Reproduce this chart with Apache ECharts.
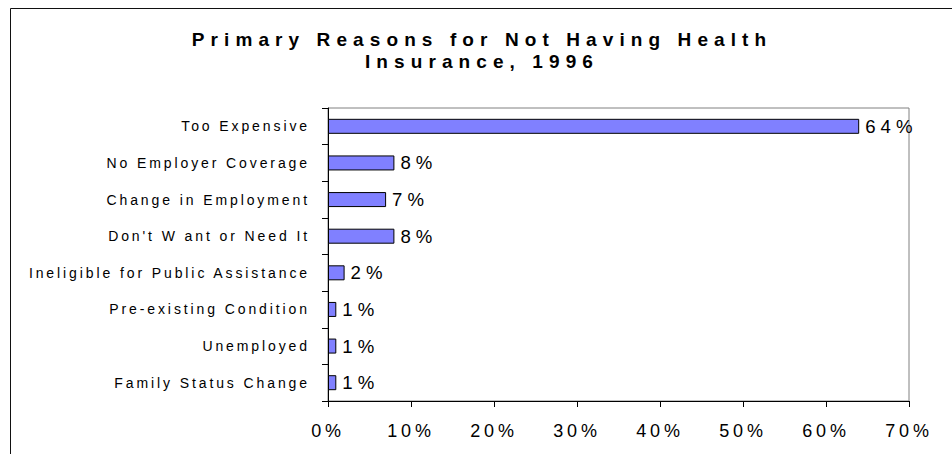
<!DOCTYPE html>
<html>
<head>
<meta charset="utf-8">
<script src="https://cdn.jsdelivr.net/npm/echarts@6/dist/echarts.min.js"></script>
<style>
html,body{margin:0;padding:0;background:#fff;}
#chart{width:952px;height:454px;}
</style>
</head>
<body>
<div id="chart"></div>
<script>
const categories = [
  'Too Expensive',
  'No Employer Coverage',
  'Change in Employment',
  "Don't W ant or Need It",
  'Ineligible for Public Assistance',
  'Pre-existing Condition',
  'Unemployed',
  'Family Status Change'
];
const values = [64, 8, 7, 8, 2, 1, 1, 1];
const xTicks = { min: 0, max: 70, interval: 10 };
const titleText = 'Primary Reasons for Not Having Health\nInsurance, 1996';

const FONT = '"Liberation Sans", Arial, Helvetica, sans-serif';
const chart = echarts.init(document.getElementById('chart'), null, { renderer: 'svg' });

chart.on('finished', function () {
  const texts = document.querySelectorAll('#chart svg text');
  texts.forEach(function (t) {
    const cs = getComputedStyle(t);
    const fs = parseFloat(cs.fontSize);
    const bold = (cs.fontWeight === 'bold' || parseInt(cs.fontWeight, 10) >= 600);
    let ls = 0;
    if (bold) ls = 6.1;
    else if (fs >= 18.5) ls = 5;
    else if (fs >= 17.5) ls = 3.8;
    else if (fs >= 13.5) ls = 2.9;
    if (ls) t.style.letterSpacing = ls + 'px';
  });
});

chart.setOption({
  animation: false,
  backgroundColor: '#fff',
  textStyle: { fontFamily: FONT },
  graphic: [{
    type: 'rect',
    silent: true,
    shape: { x: 10.5, y: 8.5, width: 1200, height: 1200 },
    style: { fill: 'none', stroke: '#111', lineWidth: 1 }
  }],
  title: {
    text: titleText,
    left: 482,
    top: 28,
    padding: 0,
    textAlign: 'center',
    textStyle: {
      fontFamily: FONT,
      fontSize: 19,
      fontWeight: 'bold',
      color: '#000',
      lineHeight: 22
    }
  },
  grid: {
    left: 328,
    top: 108,
    right: 43,
    bottom: 53,
    show: true,
    borderColor: '#808080',
    borderWidth: 1,
    containLabel: false
  },
  xAxis: {
    type: 'value',
    min: xTicks.min,
    max: xTicks.max,
    interval: xTicks.interval,
    splitLine: { show: false },
    axisLine: { show: true, lineStyle: { color: '#000', width: 1 } },
    axisTick: { show: true, length: 6, lineStyle: { color: '#000' } },
    axisLabel: {
      formatter: '{value}%',
      fontFamily: FONT,
      fontSize: 18,
      color: '#000',
      margin: 21
    }
  },
  yAxis: {
    type: 'category',
    data: categories,
    inverse: true,
    axisLine: { show: true, lineStyle: { color: '#000', width: 1 } },
    axisTick: { show: true, length: 6, lineStyle: { color: '#000' } },
    axisLabel: {
      fontFamily: FONT,
      fontSize: 14,
      color: '#000',
      margin: 18
    }
  },
  series: [{
    type: 'bar',
    data: values,
    barWidth: 15,
    itemStyle: { color: '#8080FF', borderColor: '#000', borderWidth: 1 },
    label: {
      show: true,
      position: 'right',
      distance: 6,
      formatter: '{c}%',
      fontFamily: FONT,
      fontSize: 18.6,
      color: '#000'
    }
  }]
});
</script>
</body>
</html>
